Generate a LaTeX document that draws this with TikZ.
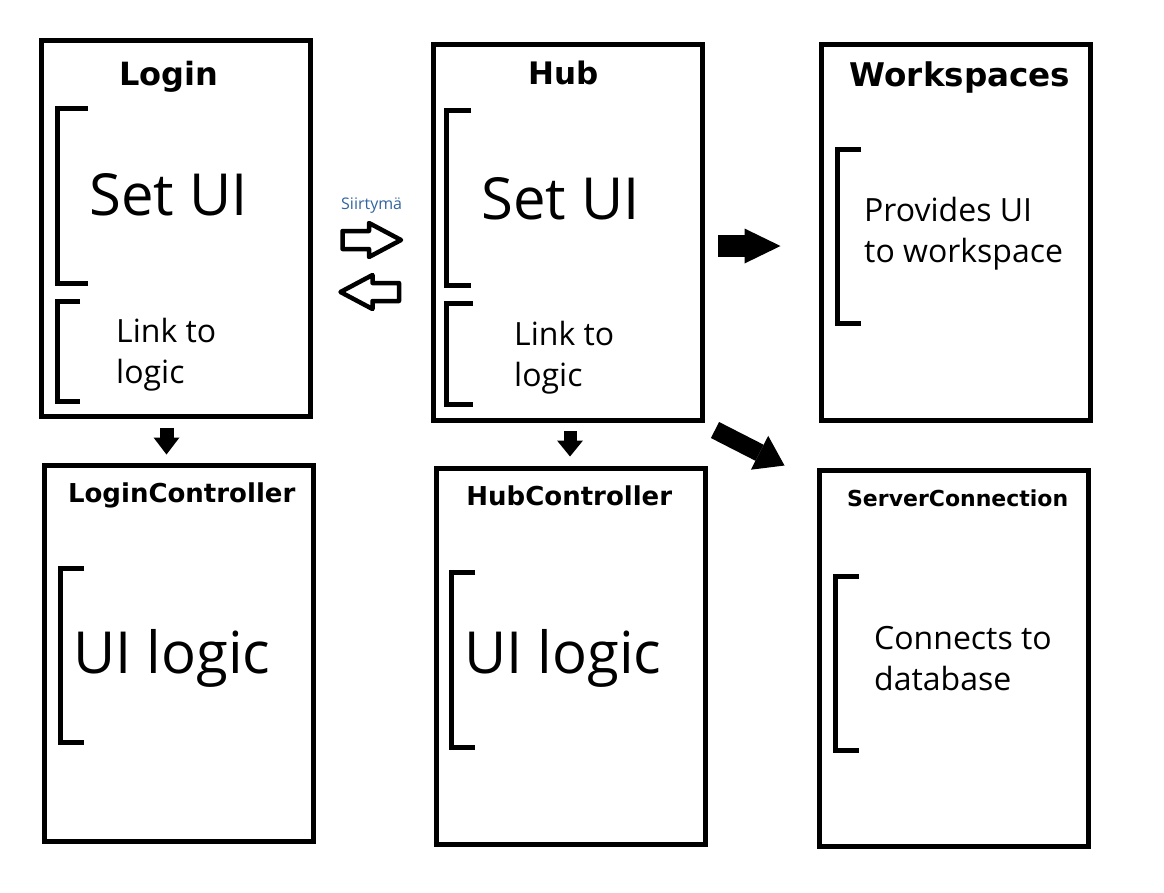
\documentclass[tikz,border=0pt]{standalone}
\usepackage{fontspec}
\setmainfont{Open Sans}
\newfontfamily\headfont{DejaVu Sans}
\usepackage{xcolor}
\usepackage{tikz}
\usetikzlibrary{positioning, calc, arrows.meta}

\definecolor{siirtoblue}{RGB}{50,100,160}

\tikzset{
  panel/.style={draw, line width=5pt, minimum width=269pt, minimum height=376pt, inner sep=0pt},
  heading/.style={font=\headfont\bfseries\fontsize{#1}{#1}\selectfont, anchor=base, inner sep=0pt},
  bigtxt/.style={font=\fontsize{58}{58}\selectfont, anchor=base west, inner sep=0pt},
  smalltxt/.style={font=\fontsize{32}{41}\selectfont, align=left, anchor=base west, inner sep=0pt},
  bracketline/.style={line width=5pt},
  openblock/.style={line width=4.5pt, line join=round},
  solidarrow/.style n args={3}{line width=#1, -{Triangle[length=#2, width=#3, line width=0pt]}}
}

% hollow block arrow between two named points
\newcommand{\openarrow}[2]{%
  \coordinate (hb) at ($(#2)!32pt!(#1)$);
  \draw[openblock] ($(#1)!9pt!90:(#2)$) -- ($(hb)!9pt!90:(#2)$) -- ($(hb)!17pt!90:(#2)$)
    -- (#2) -- ($(hb)!17pt!-90:(#2)$) -- ($(hb)!9pt!-90:(#2)$) -- ($(#1)!9pt!-90:(#2)$) -- cycle;
}

\begin{document}
\begin{tikzpicture}[x=1pt, y=-1pt]
  \useasboundingbox (0,0) rectangle (1164,892);

  % Panels
  \node[panel] (login) at (176,228.5) {};
  \node[panel] (hub) at (567.5,232) {};
  \node[panel] (workspaces) at (956,232.25) {};
  \node[panel] (loginctrl) at (178.75,653.5) {};
  \node[panel] (hubctrl) at (570.5,656.5) {};
  \node[panel] (serverconn) at (954,658.5) {};

  % Headings
  \node[heading=32] (loginhead) at (168.7,85) {Login};
  \node[heading=31] (hubhead) at (564,84) {Hub};
  \node[heading=32.6] (wshead) at (960,86) {Workspaces};
  \node[heading=26] (lchead) at (181.7,502) {LoginController};
  \node[heading=26] (hchead) at (569.3,505.7) {HubController};
  \node[heading=22] (schead) at (957.7,506) {ServerConnection};

  % Login contents
  \draw[bracketline] (88,108.5) -- (57.5,108.5) -- (57.5,283) -- (88,283);
  \node[bigtxt] (loginset) at (89,215) {Set UI};
  \draw[bracketline] (80,301.5) -- (57,301.5) -- (57,401) -- (80,401);
  \node[smalltxt] (loginlink) at (116,383) {Link to\\logic};

  % Hub contents
  \draw[bracketline] (471,110.5) -- (446.5,110.5) -- (446.5,285) -- (471,285);
  \node[bigtxt] (hubset) at (481,219) {Set UI};
  \draw[bracketline] (473,303.5) -- (446,303.5) -- (446,404) -- (473,404);
  \node[smalltxt] (hublink) at (514,386) {Link to\\logic};

  % Workspaces contents
  \draw[bracketline] (861,149) -- (837,149) -- (837,323) -- (861,323);
  \node[smalltxt] (wstext) at (864,262) {Provides UI\\to workspace};

  % Controllers
  \draw[bracketline] (84,568.5) -- (60,568.5) -- (60,742.5) -- (84,742.5);
  \node[bigtxt] (lclogic) at (73,673) {UI logic};
  \draw[bracketline] (475,572.5) -- (451,572.5) -- (451,747.5) -- (475,747.5);
  \node[bigtxt] (hclogic) at (464,673) {UI logic};

  % Server connection
  \draw[bracketline] (859,576) -- (835,576) -- (835,750) -- (859,750);
  \node[smalltxt] (sctext) at (874,690) {Connects to\\database};

  % Transition between login and hub
  \node[font=\fontsize{16}{16}\selectfont, text=siirtoblue, anchor=base west, inner sep=0pt] (siirto) at (341,209) {Siirtymä};
  \coordinate (fwdS) at ($(login.east)+(29.5,11.5)$);
  \coordinate (fwdE) at ($(hub.west)+(-29.5,8)$);
  \coordinate (backS) at ($(hub.west)+(-31.5,60)$);
  \coordinate (backE) at ($(login.east)+(27.5,63.5)$);
  \openarrow{fwdS}{fwdE}
  \openarrow{backS}{backE}

  % Solid arrows
  \draw[solidarrow={22pt}{36pt}{35pt}] ($(hub.east)+(13.5,14)$) -- ($(workspaces.west)+(-38.5,13.75)$);
  \draw[solidarrow={18pt}{28pt}{38pt}] ($(hub.south east)+(10.5,7.5)$) -- ($(serverconn.north west)+(-32.5,-2.5)$);
  \draw[solidarrow={14pt}{17pt}{26pt}] ($(login.south)+(-9.5,8.5)$) -- ($(loginctrl.north)+(-12.25,-8.5)$);
  \draw[solidarrow={13pt}{16pt}{26pt}] ($(hub.south)+(2.5,8.5)$) -- ($(hubctrl.north)+(-0.5,-9.5)$);
\end{tikzpicture}
\end{document}
